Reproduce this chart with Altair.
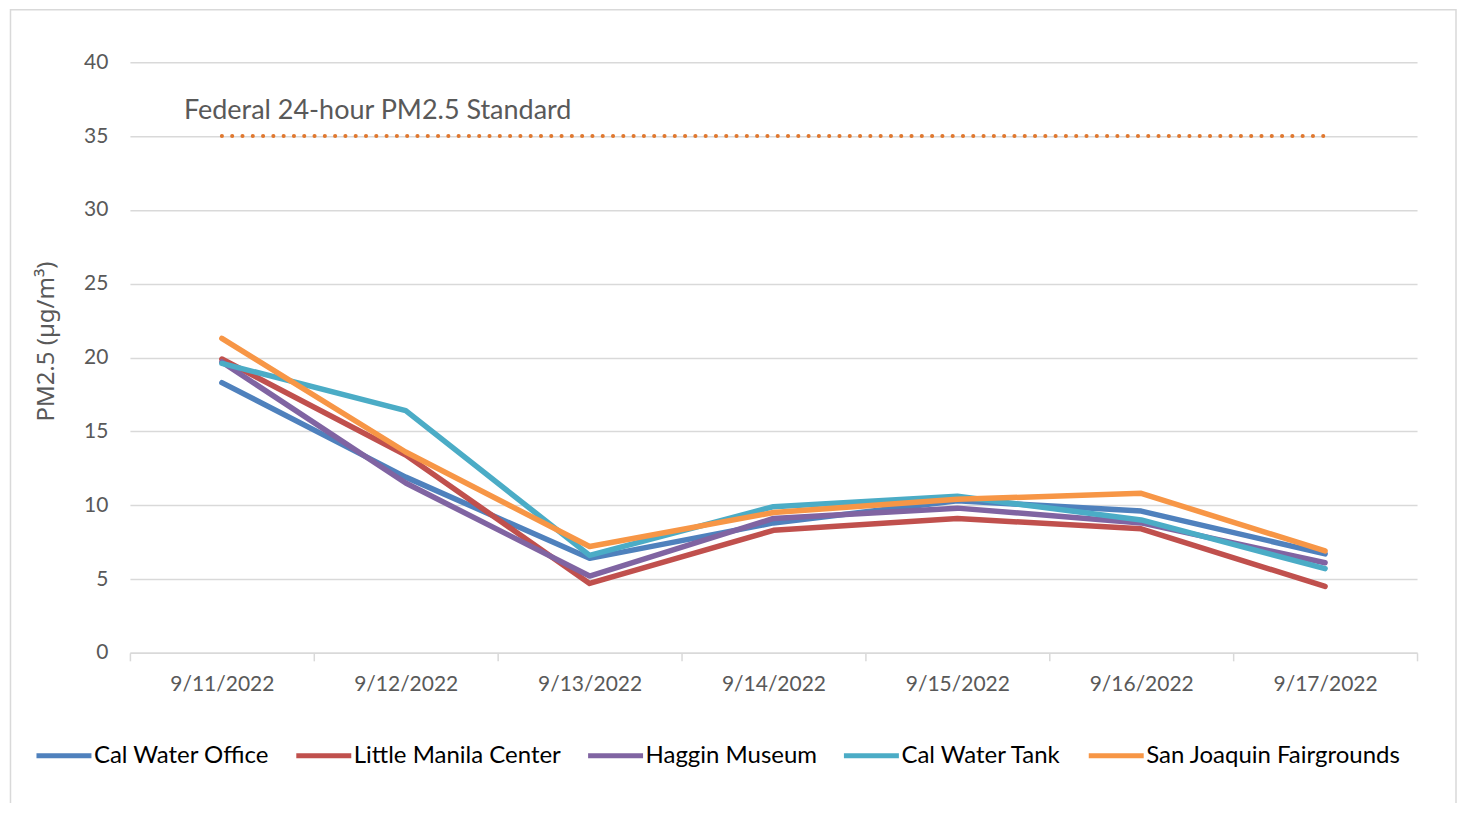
import altair as alt
import pandas as pd

dates = ["9/11/2022", "9/12/2022", "9/13/2022", "9/14/2022", "9/15/2022", "9/16/2022", "9/17/2022"]
series_names = ["Cal Water Office", "Little Manila Center", "Haggin Museum", "Cal Water Tank", "San Joaquin Fairgrounds"]
cal_water_office = [18.3, 11.9, 6.4, 8.8, 10.3, 9.6, 6.7]
little_manila_center = [19.9, 13.4, 4.7, 8.3, 9.1, 8.4, 4.5]
haggin_museum = [19.7, 11.5, 5.2, 9.1, 9.8, 8.8, 6.1]
cal_water_tank = [19.6, 16.4, 6.6, 9.9, 10.6, 9.0, 5.7]
san_joaquin_fairgrounds = [21.3, 13.6, 7.2, 9.5, 10.4, 10.8, 6.9]
colors = ["#4F81BD", "#C0504D", "#8064A2", "#4BACC6", "#F79646"]
standard_value = 35
standard_label = "Federal 24-hour PM2.5 Standard"

all_series = [cal_water_office, little_manila_center, haggin_museum, cal_water_tank, san_joaquin_fairgrounds]
rows = []
for i, (name, vals) in enumerate(zip(series_names, all_series)):
    for d, v in zip(dates, vals):
        rows.append({"Date": d, "Site": name, "PM": v, "ord": i})
df = pd.DataFrame(rows)

FONT = "Lato"
band = alt.Scale(type="band", paddingInner=0, paddingOuter=0, domain=dates)

x_enc = alt.X(
    "Date:N",
    sort=dates,
    bandPosition=0.5,
    scale=band,
    axis=alt.Axis(
        title=None, labelAngle=0, labelFontSize=21, labelColor="#595959", labelFont=FONT,
        labelAlign="center", bandPosition=0.5,
        domainColor="#D9D9D9", domainWidth=1.5, tickColor="#D9D9D9", tickWidth=1.5,
        tickSize=8, tickBand="extent", labelPadding=24, grid=False,
    ),
)
y_enc = alt.Y(
    "PM:Q",
    scale=alt.Scale(domain=[0, 40], nice=False),
    axis=alt.Axis(
        title="PM2.5 (µg/m³)", titleFontSize=24, titleFont="Noto Sans", titleColor="#595959",
        titleFontWeight="normal", titleX=-83, titleY=279, titleAngle=270,
        titleAlign="center", titleBaseline="middle",
        values=[0, 5, 10, 15, 20, 25, 30, 35, 40], labelFontSize=21, labelColor="#595959",
        labelFont=FONT, labelPadding=22, domain=False, ticks=False,
        gridColor="#D9D9D9", gridWidth=1.5,
    ),
)

lines = alt.Chart(df).mark_line(strokeWidth=5.5, strokeCap="round", strokeJoin="round").encode(
    x=x_enc,
    y=y_enc,
    color=alt.Color(
        "Site:N",
        scale=alt.Scale(domain=series_names, range=colors),
        sort=series_names,
        legend=alt.Legend(
            title=None, orient="none", direction="horizontal", legendX=-96, legendY=664,
            symbolType="stroke", symbolStrokeWidth=5, symbolSize=3025,
            labelFontSize=24, labelFont=FONT, labelColor="#000000", labelOffset=0,
            labelLimit=0, columnPadding=16, symbolOffset=0,
        ),
    ),
    detail="ord:O",
    order="ord:O",
)

std_df = pd.DataFrame({"start": [dates[0]], "end": [dates[-1]], "val": [standard_value], "label": [standard_label]})

std_line = alt.Chart(std_df).mark_rule(
    color="#E0782F", strokeWidth=4, strokeDash=[0.1, 10.2], strokeCap="round"
).encode(
    x=alt.X("start:N", sort=dates, bandPosition=0.5, scale=band),
    x2="end:N",
    y="val:Q",
)

std_text = alt.Chart(std_df).mark_text(
    align="left", baseline="middle", dx=-38, dy=-25, fontSize=27, font=FONT, color="#595959"
).encode(
    x=alt.X("start:N", sort=dates, bandPosition=0.5, scale=band),
    y="val:Q",
    text="label:N",
)

frame = alt.Chart(std_df).mark_rect(fill=None, stroke="#D9D9D9", strokeWidth=1.5).encode(
    x=alt.value(-119.5), x2=alt.value(1327), y=alt.value(-52.5), y2=alt.value(780)
)

chart = alt.layer(frame, std_line, lines, std_text).properties(
    width=1288, height=591,
    autosize=alt.AutoSizeParams(type="none"),
    padding={"left": 122, "top": 54, "right": 40, "bottom": 150},
    background="white",
).configure_view(stroke=None)

chart.save("out.html", embed_options={"renderer": "svg", "actions": False})
